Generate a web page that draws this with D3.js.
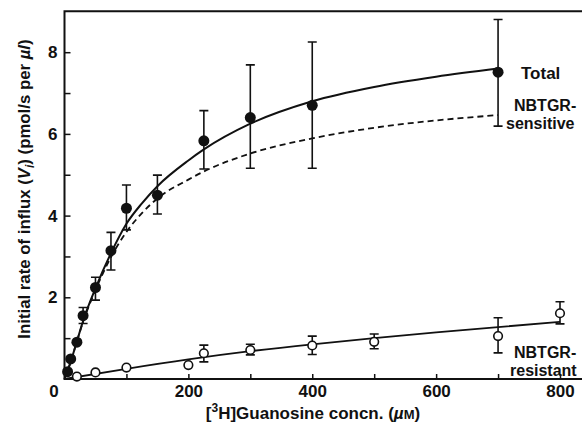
<!DOCTYPE html>
<html>
<head>
<meta charset="utf-8">
<script src="https://cdn.jsdelivr.net/npm/d3@7"></script>
<style>
  html, body { margin: 0; padding: 0; background: #fff; }
  svg { display: block; font-family: "Liberation Sans", Arial, Helvetica, sans-serif; }
</style>
</head>
<body>
<svg id="chart" width="582" height="435"></svg>
<script>
// ---- Data ----
// Total influx (filled circles), guanosine concentration in µM
const totalConc = [5, 10, 20, 30, 50, 75, 100, 150, 225, 300, 400, 700];
const totalMean = [0.18, 0.49, 0.90, 1.55, 2.24, 3.14, 4.18, 4.50, 5.83, 6.40, 6.70, 7.51];
const totalLow  = [null, null, null, 1.36, 1.93, 2.67, 3.65, 4.04, 5.14, 5.16, 5.16, 6.19];
const totalHigh = [null, null, null, 1.75, 2.49, 3.59, 4.75, 4.99, 6.57, 7.69, 8.25, 8.80];

// NBTGR-resistant influx (open circles)
const resConc = [20, 50, 100, 200, 225, 300, 400, 500, 700, 800];
const resMean = [0.06, 0.16, 0.28, 0.34, 0.63, 0.71, 0.82, 0.91, 1.05, 1.61];
const resLow  = [null, null, null, null, 0.42, 0.59, 0.60, 0.74, 0.64, 1.35];
const resHigh = [null, null, null, null, 0.83, 0.85, 1.05, 1.10, 1.50, 1.89];

// Fitted curves
const fitConc       = [0, 10, 20, 30, 50, 75, 100, 125, 150, 200, 225, 300, 400, 500, 600, 700];
const totalFit      = [0, 0.42, 0.92, 1.42, 2.22, 3.08, 3.80, 4.30, 4.72, 5.35, 5.62, 6.25, 6.80, 7.15, 7.40, 7.60];
const sensitiveFit  = [0, 0.42, 0.92, 1.40, 2.18, 2.98, 3.60, 4.06, 4.42, 4.88, 5.08, 5.52, 5.89, 6.15, 6.33, 6.46];
const resFitConc    = [0, 100, 200, 300, 400, 500, 600, 700, 800];
const resFit        = [0, 0.25, 0.48, 0.68, 0.85, 1.00, 1.14, 1.27, 1.40];

// Axis ticks
const xTicks = [100, 200, 300, 400, 500, 600, 700, 800];
const xTickLabels = ["", "200", "", "400", "", "600", "", "800"];
const yTicks = [1, 2, 3, 4, 5, 6, 7, 8];
const yTickLabels = ["", "2", "", "4", "", "6", "", "8"];
const originLabel = "0";

// Annotation texts
const labelTotal = "Total";
const labelSensitive = ["NBTGR-", "sensitive"];
const labelResistant = ["NBTGR-", "resistant"];

// ---- Drawing ----
const svg = d3.select("#chart");
svg.append("rect").attr("width", 582).attr("height", 435).attr("fill", "#fff");

const x = d3.scaleLinear().domain([0, 800]).range([64.5, 560]);
const y = d3.scaleLinear().domain([0, 9]).range([379, 11.35]);

const ink = "#111";

// Frame (left axis, bottom axis, top border; right side cut off by the picture)
svg.append("path")
  .attr("d", `M${x(850)},${y(9)} L${x(0)},${y(9)} L${x(0)},${y(0)} L${x(850)},${y(0)}`)
  .attr("fill", "none").attr("stroke", ink).attr("stroke-width", 2);

// Y axis
const yAxis = d3.axisLeft(y)
  .tickValues(yTicks)
  .tickSize(-6)
  .tickPadding(7)
  .tickFormat((d, i) => yTickLabels[i]);
const gy = svg.append("g").attr("transform", `translate(${x(0)},0)`).call(yAxis);
gy.select(".domain").remove();
gy.selectAll(".tick line").attr("stroke", ink).attr("stroke-width", 1.5);
gy.selectAll(".tick text").attr("fill", ink)
  .style("font-size", "17px").style("font-weight", "bold");

// X axis
const xAxis = d3.axisBottom(x)
  .tickValues(xTicks)
  .tickSize(-5)
  .tickPadding(6)
  .tickFormat((d, i) => xTickLabels[i]);
const gx = svg.append("g").attr("transform", `translate(0,${y(0)})`).call(xAxis);
gx.select(".domain").remove();
gx.selectAll(".tick line").attr("stroke", ink).attr("stroke-width", 1.5);
gx.selectAll(".tick text").attr("fill", ink)
  .style("font-size", "17px").style("font-weight", "bold");

// Shared origin label
svg.append("text").attr("x", 54).attr("y", 397).attr("text-anchor", "middle")
  .attr("fill", ink).style("font-size", "17px").style("font-weight", "bold")
  .text(originLabel);

// Curves
const line = d3.line().x(d => x(d[0])).y(d => y(d[1])).curve(d3.curveMonotoneX);

svg.append("path")
  .datum(fitConc.map((c, i) => [c, sensitiveFit[i]]))
  .attr("d", line).attr("fill", "none").attr("stroke", ink)
  .attr("stroke-width", 1.8).attr("stroke-dasharray", "6,4");

svg.append("path")
  .datum(fitConc.map((c, i) => [c, totalFit[i]]))
  .attr("d", line).attr("fill", "none").attr("stroke", ink).attr("stroke-width", 2);

svg.append("path")
  .datum(resFitConc.map((c, i) => [c, resFit[i]]))
  .attr("d", line).attr("fill", "none").attr("stroke", ink).attr("stroke-width", 1.8);

// Error bars
function errorBars(conc, low, high) {
  const data = conc.map((c, i) => ({ c, lo: low[i], hi: high[i] })).filter(d => d.lo !== null);
  const g = svg.append("g").attr("stroke", ink).attr("stroke-width", 1.6).attr("fill", "none");
  g.selectAll("path.eb").data(data).join("path")
    .attr("d", d => {
      const cx = x(d.c), y1 = y(d.lo), y2 = y(d.hi), w = 4.5;
      return `M${cx},${y1} L${cx},${y2} M${cx - w},${y2} L${cx + w},${y2} M${cx - w},${y1} L${cx + w},${y1}`;
    });
}
errorBars(totalConc, totalLow, totalHigh);
errorBars(resConc, resLow, resHigh);

// Markers
svg.append("g").selectAll("circle")
  .data(totalConc.map((c, i) => [c, totalMean[i]]))
  .join("circle")
  .attr("cx", d => x(d[0])).attr("cy", d => y(d[1])).attr("r", 5.5)
  .attr("fill", ink);

svg.append("g").selectAll("circle")
  .data(resConc.map((c, i) => [c, resMean[i]]))
  .join("circle")
  .attr("cx", d => x(d[0])).attr("cy", d => y(d[1])).attr("r", 4.3)
  .attr("fill", "#fff").attr("stroke", ink).attr("stroke-width", 1.6);

// Annotations
function label(txt, px, py, size) {
  svg.append("text").attr("x", px).attr("y", py).attr("fill", ink)
    .style("font-size", size + "px").style("font-weight", "bold").text(txt);
}
label(labelTotal, 521, 79, 17);
label(labelSensitive[0], 514, 111, 16);
label(labelSensitive[1], 506, 129, 16);
label(labelResistant[0], 514, 358, 16);
label(labelResistant[1], 510, 376, 16);

// Axis titles
const yTitle = svg.append("text")
  .attr("transform", "translate(30,189) rotate(-90)")
  .attr("text-anchor", "middle").attr("fill", ink)
  .style("font-size", "16.8px").style("font-weight", "bold");
yTitle.append("tspan").text("Initial rate of influx (");
yTitle.append("tspan").style("font-style", "italic").text("V");
yTitle.append("tspan").style("font-style", "italic").style("font-size", "12px").attr("dy", 4).text("i");
yTitle.append("tspan").attr("dy", -4).text(") (pmol/s per ");
yTitle.append("tspan").style("font-style", "italic").text("µl");
yTitle.append("tspan").text(")");

const xTitle = svg.append("text")
  .attr("x", 313).attr("y", 419)
  .attr("text-anchor", "middle").attr("fill", ink)
  .style("font-size", "17px").style("font-weight", "bold");
xTitle.append("tspan").text("[");
xTitle.append("tspan").style("font-size", "12px").attr("dy", -7).text("3");
xTitle.append("tspan").attr("dy", 7).text("H]Guanosine concn. (");
xTitle.append("tspan").style("font-style", "italic").text("µ");
xTitle.append("tspan").style("font-size", "13px").text("M");
xTitle.append("tspan").text(")");
</script>
</body>
</html>
